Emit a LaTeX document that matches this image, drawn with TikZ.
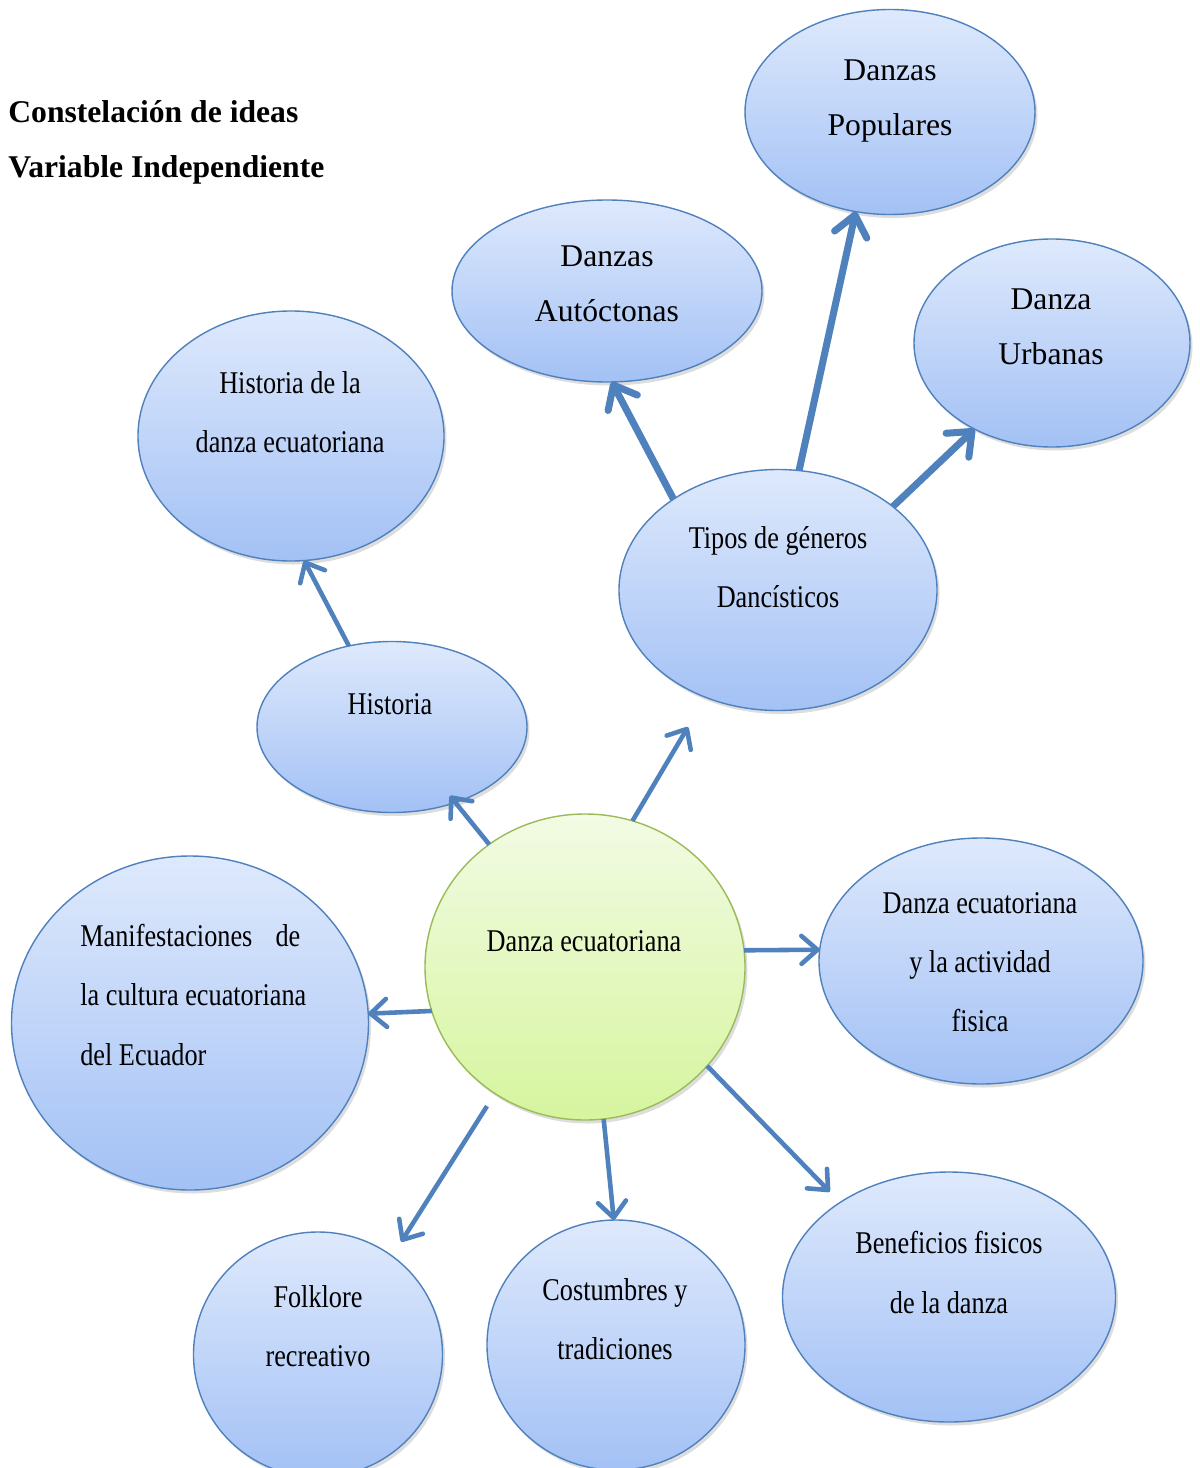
\documentclass[tikz,border=0pt]{standalone}
\usepackage{fontspec}
\setmainfont{Liberation Serif}
\newfontfamily\narrowserif[FakeStretch=0.83]{Liberation Serif}
\usetikzlibrary{shapes.geometric,arrows.meta,shadows,calc}

\definecolor{bordblue}{RGB}{79,129,189}
\definecolor{arrowblue}{RGB}{79,129,189}
\definecolor{topblue}{RGB}{222,233,252}
\definecolor{botblue}{RGB}{163,193,245}
\definecolor{topgreen}{RGB}{242,251,228}
\definecolor{botgreen}{RGB}{214,245,158}
\definecolor{bordgreen}{RGB}{155,187,89}

\tikzset{
  bubble/.style={ellipse, draw=bordblue, line width=0.8pt, top color=topblue,
    bottom color=botblue, inner sep=0pt, outer sep=0pt,
    drop shadow={shadow xshift=0.05cm, shadow yshift=-0.07cm, opacity=0.22, fill=black!60}},
  centerbub/.style={bubble, draw=bordgreen, top color=topgreen, bottom color=botgreen},
  txt/.style={align=center, font=\fontsize{18}{31.3}\selectfont, inner sep=0pt},
  ntxt/.style={align=center, font=\narrowserif\fontsize{18}{33.6}\selectfont, inner sep=0pt},
  titletxt/.style={align=left, font=\bfseries\fontsize{18}{31.3}\selectfont, inner sep=0pt},
  link/.style={draw=arrowblue, line width=2.6pt,
    -{Straight Barb[round, length=0.32cm, width=0.56cm]}},
  biglink/.style={draw=arrowblue, line width=4pt,
    -{Straight Barb[round, length=0.4cm, width=0.66cm]}},
}

\begin{document}
\begin{tikzpicture}
\clip (0,0) rectangle (24,-29.36);
\fill[white] (0,0) rectangle (24,-29.36);

% title
\node[titletxt, anchor=west] (title) at (0.16,-2.85)
  {Constelación de ideas\\Variable Independiente};

% ellipses
\node[bubble, minimum width=5.8cm, minimum height=4.1cm] (pop) at (17.8,-2.24) {};
\node[bubble, minimum width=6.2cm, minimum height=3.64cm] (aut) at (12.14,-5.82) {};
\node[bubble, minimum width=5.52cm, minimum height=4.16cm] (urb) at (21.04,-6.86) {};
\node[bubble, minimum width=6.12cm, minimum height=5.0cm] (hdz) at (5.82,-8.72) {};
\node[bubble, minimum width=6.36cm, minimum height=4.82cm] (tipos) at (15.56,-11.8) {};
\node[bubble, minimum width=5.4cm, minimum height=3.42cm] (hist) at (7.84,-14.54) {};
\node[centerbub, minimum width=6.4cm, minimum height=6.12cm] (danza) at (11.7,-19.34) {};
\node[bubble, minimum width=6.48cm, minimum height=4.92cm] (act) at (19.62,-19.22) {};
\node[bubble, minimum width=7.14cm, minimum height=6.68cm] (man) at (3.8,-20.46) {};
\node[bubble, minimum width=4.98cm, minimum height=4.9cm] (folk) at (6.36,-27.09) {};
\node[bubble, minimum width=5.16cm, minimum height=5.0cm] (cost) at (12.32,-26.9) {};
\node[bubble, minimum width=6.66cm, minimum height=5.0cm] (ben) at (18.98,-25.94) {};

% free ends
\coordinate (tipend) at (13.76,-14.54);
\coordinate (folkstart) at ($(danza.-125.4)+(-0.18,-0.24)$);

% connectors
\draw[biglink] (tipos.139.7) -- (aut.-87);
\draw[biglink] (tipos.80.8) -- (pop.-109.4);
\draw[biglink] (tipos.36.2) -- (urb.-132.7);
\draw[link] (hist.118.7) -- (hdz.-84.7);
\draw[link] (danza.128.3) -- ($(hist.-50.2)!-0.16!(danza.128.3)$);
\draw[link] (danza.72.5) -- (tipend);
\draw[link] (danza.6.5) -- (act.176);
\draw[link] (danza.196) -- (man.3.1);
\draw[link, shorten >=0.34cm] (folkstart) -- (folk.53.8);
\draw[link] (danza.-83.7) -- (cost.91.8);
\draw[link, shorten >=0.3cm] (danza.-39.5) -- (ben.139.8);

% texts
\node[txt] (pop-t) at (17.8,-2.03) {Danzas\\Populares};
\node[txt] (aut-t) at (12.14,-5.68) {Danzas\\Autóctonas};
\node[txt] (urb-t) at (21.02,-6.53) {Danza\\Urbanas};
\node[ntxt] (hdz-t) at (5.8,-8.25) {Historia de la\\danza ecuatoriana};
\node[ntxt] (tipos-t) at (15.56,-11.35) {Tipos de géneros\\Dancísticos};
\node[ntxt] (hist-t) at (7.8,-14.08) {Historia};
\node[ntxt] (danza-t) at (11.68,-18.82) {Danza ecuatoriana};
\node[ntxt] (act-t) at (19.6,-19.25) {Danza ecuatoriana\\y la actividad\\fisica};
\node[ntxt, align=left, anchor=west] (man-t) at (1.6,-19.9)
  {\makebox[4.4cm][l]{Manifestaciones\hfill de}\\la cultura ecuatoriana\\del Ecuador};
\node[ntxt] (folk-t) at (6.36,-26.52) {Folklore\\recreativo};
\node[ntxt] (cost-t) at (12.3,-26.39) {Costumbres y\\tradiciones};
\node[ntxt] (ben-t) at (18.98,-25.45) {Beneficios fisicos\\de la danza};
\end{tikzpicture}
\end{document}
